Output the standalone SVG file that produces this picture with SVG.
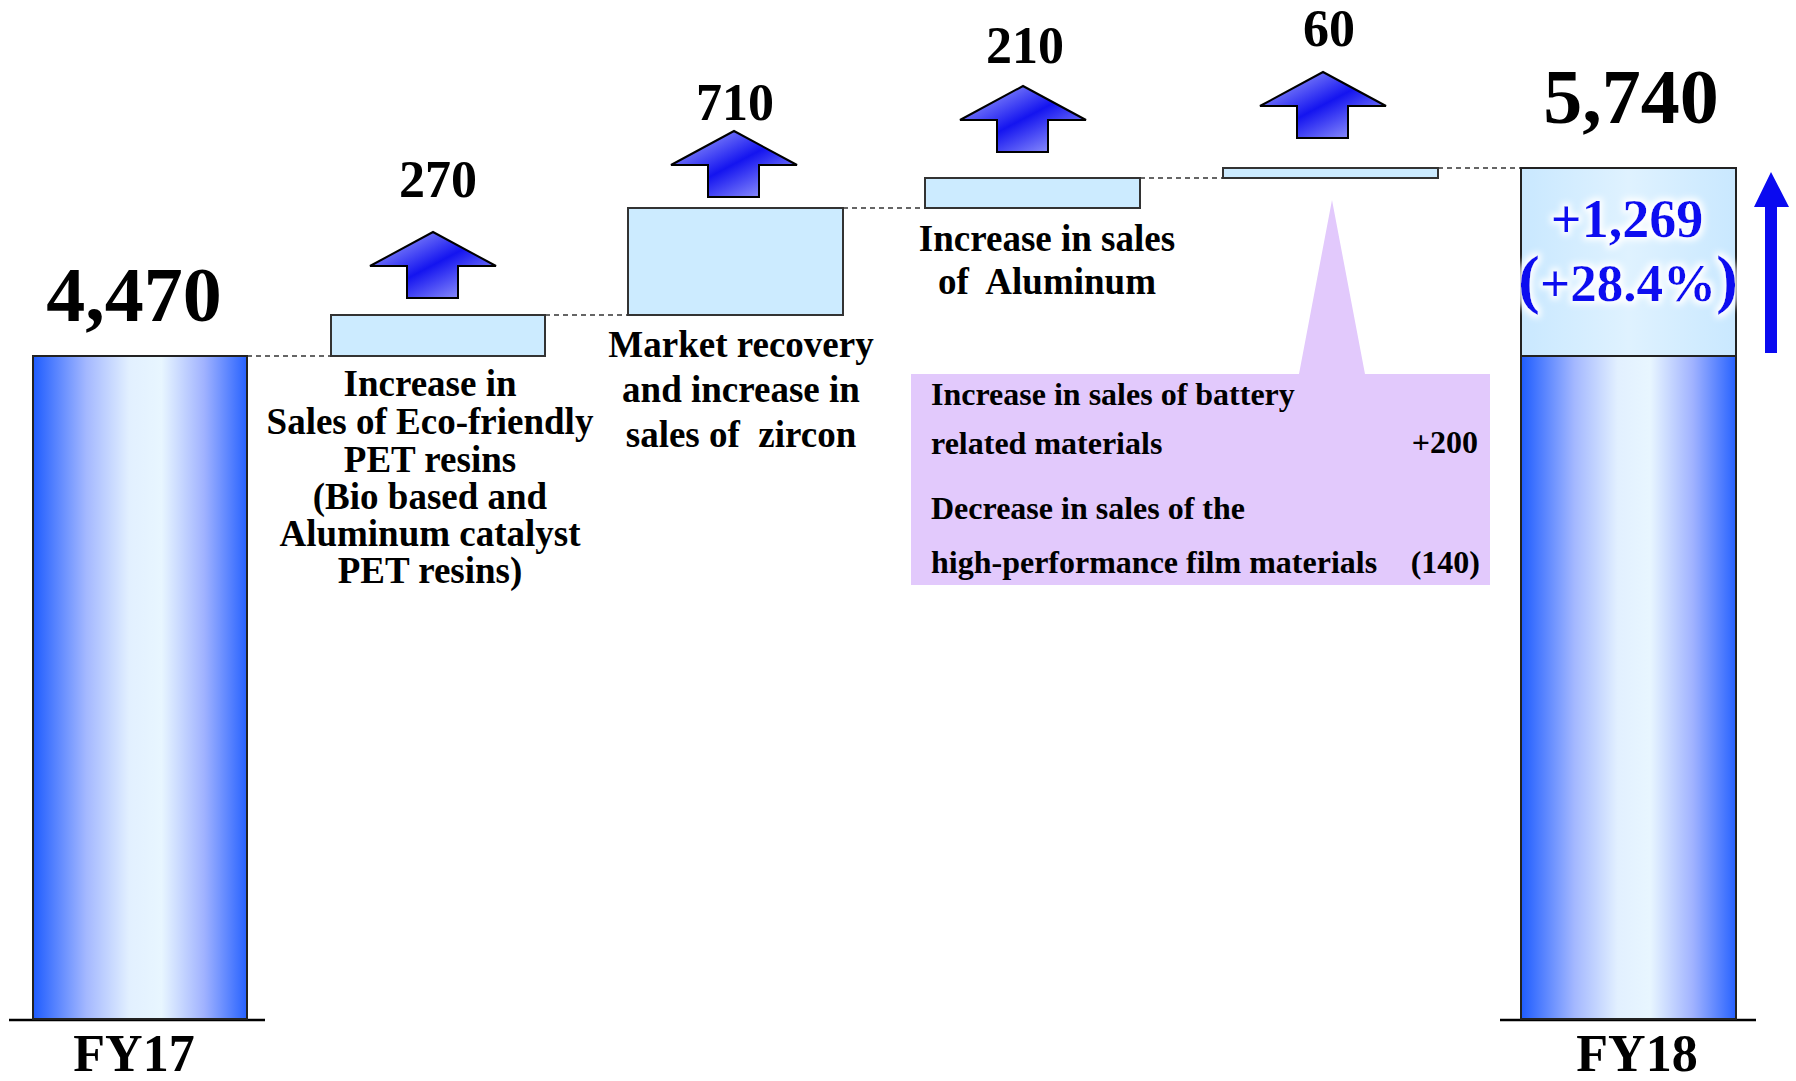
<svg xmlns="http://www.w3.org/2000/svg" width="1796" height="1081" viewBox="0 0 1796 1081">
<defs>
<linearGradient id="barGrad" x1="0" y1="0" x2="1" y2="0">
<stop offset="0" stop-color="#1E5CFF"/>
<stop offset="0.25" stop-color="#A4B8FF"/>
<stop offset="0.45" stop-color="#E2F0FF"/>
<stop offset="0.6" stop-color="#E8F6FF"/>
<stop offset="0.8" stop-color="#A0B2FF"/>
<stop offset="1" stop-color="#2762FF"/>
</linearGradient>
<linearGradient id="topGrad" x1="0" y1="0" x2="1" y2="0">
<stop offset="0" stop-color="#C9E8FF"/>
<stop offset="0.5" stop-color="#DFF2FF"/>
<stop offset="1" stop-color="#C9E8FF"/>
</linearGradient>
<linearGradient id="arrowGrad" x1="0" y1="0" x2="1" y2="1">
<stop offset="0" stop-color="#B8BCFF"/>
<stop offset="0.5" stop-color="#1414F0"/>
<stop offset="1" stop-color="#B8BCFF"/>
</linearGradient>
<filter id="glow" x="-20%" y="-30%" width="140%" height="160%">
<feMorphology in="SourceAlpha" operator="dilate" radius="3" result="d"/>
<feGaussianBlur in="d" stdDeviation="3" result="b"/>
<feFlood flood-color="#FFFFFF"/>
<feComposite in2="b" operator="in" result="w"/>
<feMerge><feMergeNode in="w"/><feMergeNode in="SourceGraphic"/></feMerge>
</filter>
<path id="uparrow" d="M0,0 L63,34 L25,34 L25,66 L-26,66 L-26,34 L-63,34 Z"/>
</defs>
<style>
.t{font-family:"Liberation Serif","Times New Roman",serif;font-weight:bold;fill:#000;text-anchor:middle}
.big{font-size:78px}
.num{font-size:52px}
.lbl{font-size:37px}
.pt{font-family:"Liberation Serif","Times New Roman",serif;font-weight:bold;font-size:32px;fill:#000}
.box{fill:#CCEBFF;stroke:#333;stroke-width:2}
.bar{fill:url(#barGrad);stroke:#222;stroke-width:2}
.arr{fill:url(#arrowGrad);stroke:#000;stroke-width:2}
.dash{stroke:#333;stroke-width:1.5;stroke-dasharray:5 4;fill:none}
.base{stroke:#000;stroke-width:2.5}
.blue{font-family:"Liberation Serif","Times New Roman",serif;font-weight:bold;fill:#0A0AF0;text-anchor:middle}
</style>
<rect width="1796" height="1081" fill="#FFFFFF"/>

<g id="connectors">
<line class="dash" x1="247" y1="356" x2="331" y2="356"/>
<line class="dash" x1="545" y1="315" x2="628" y2="315"/>
<line class="dash" x1="843" y1="208" x2="925" y2="208"/>
<line class="dash" x1="1140" y1="178" x2="1223" y2="178"/>
<line class="dash" x1="1438" y1="168" x2="1521" y2="168"/>
<line class="base" x1="9" y1="1020" x2="265" y2="1020"/>
<line class="base" x1="1500" y1="1020" x2="1756" y2="1020"/>
</g>

<g id="fy17">
<rect class="bar" x="33" y="356" width="214" height="663"/>
<text class="t big" x="134" y="321">4,470</text>
<text class="t num" x="134" y="1071">FY17</text>
</g>

<g id="step1">
<rect class="box" x="331" y="315" width="214" height="41"/>
<use href="#uparrow" class="arr" x="433" y="232"/>
<text class="t num" x="438" y="197">270</text>
<text class="t lbl" x="430" y="396">Increase in</text>
<text class="t lbl" x="430" y="434">Sales of Eco-friendly</text>
<text class="t lbl" x="430" y="472">PET resins</text>
<text class="t lbl" x="430" y="509">(Bio based and</text>
<text class="t lbl" x="430" y="546">Aluminum catalyst</text>
<text class="t lbl" x="430" y="583">PET resins)</text>
</g>

<g id="step2">
<rect class="box" x="628" y="208" width="215" height="107"/>
<use href="#uparrow" class="arr" x="734" y="131"/>
<text class="t num" x="735" y="120">710</text>
<text class="t lbl" x="741" y="357">Market recovery</text>
<text class="t lbl" x="741" y="402">and increase in</text>
<text class="t lbl" x="741" y="447">sales of&#160; zircon</text>
</g>

<g id="step3">
<rect class="box" x="925" y="178" width="215" height="30"/>
<use href="#uparrow" class="arr" x="1023" y="86"/>
<text class="t num" x="1025" y="63">210</text>
<text class="t lbl" x="1047" y="251">Increase in sales</text>
<text class="t lbl" x="1047" y="294">of&#160; Aluminum</text>
</g>

<g id="step4">
<rect class="box" x="1223" y="168" width="215" height="10"/>
<use href="#uparrow" class="arr" x="1323" y="72"/>
<text class="t num" x="1329" y="46">60</text>
</g>

<g id="callout">
<path d="M1332,200 L1365,374 L1490,374 L1490,585 L911,585 L911,374 L1299,374 Z" fill="#E2C9FC"/>
<text class="pt" x="931" y="405">Increase in sales of battery</text>
<text class="pt" x="931" y="454">related materials</text>
<text class="pt" x="1478" y="453" text-anchor="end">+200</text>
<text class="pt" x="931" y="519">Decrease in sales of the</text>
<text class="pt" x="931" y="573">high-performance film materials</text>
<text class="pt" x="1480" y="573" text-anchor="end">(140)</text>
</g>

<g id="fy18">
<rect class="bar" x="1521" y="356" width="215" height="663"/>
<rect x="1521" y="168" width="215" height="188" fill="url(#topGrad)" stroke="#222" stroke-width="2"/>
<text class="t big" x="1631" y="123">5,740</text>
<text class="t num" x="1637" y="1071">FY18</text>
<g filter="url(#glow)">
<text class="blue" x="1627" y="237" font-size="54">+1,269</text>
<text class="blue" x="1628" y="301" font-size="53"><tspan font-size="66">(</tspan>+28.4%<tspan font-size="66">)</tspan></text>
</g>
</g>

<g id="growth-arrow">
<path d="M1771,172 L1789,207 L1777,207 L1777,353 L1765,353 L1765,207 L1754,207 Z" fill="#0A0AF0"/>
</g>
</svg>
